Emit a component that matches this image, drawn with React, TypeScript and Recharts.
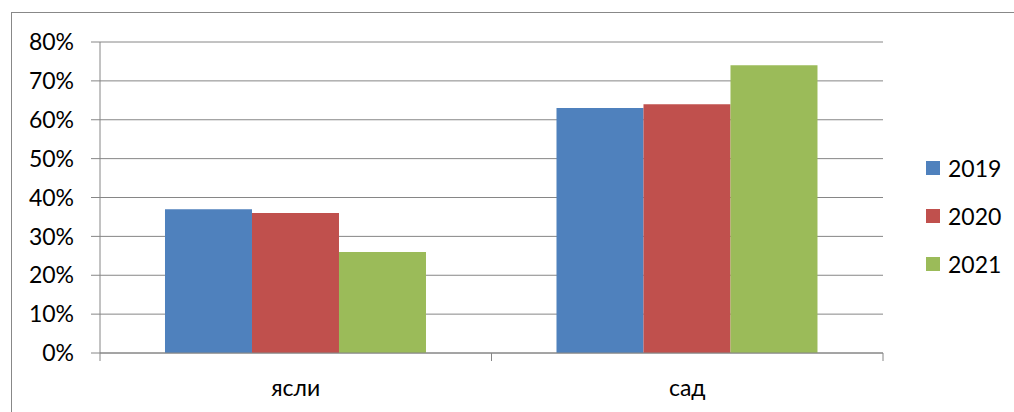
import { BarChart, Bar, XAxis, YAxis, CartesianGrid, Legend } from 'recharts';

const categories = ['ясли', 'сад'];
const values2019 = [37, 63];
const values2020 = [36, 64];
const values2021 = [26, 74];
const yTicks = [0, 10, 20, 30, 40, 50, 60, 70, 80];

const series = [
  { key: 'y2019', name: '2019', color: '#4F81BD' },
  { key: 'y2020', name: '2020', color: '#C0504D' },
  { key: 'y2021', name: '2021', color: '#9BBB59' },
];

const data = categories.map((name, i) => ({
  name,
  y2019: values2019[i],
  y2020: values2020[i],
  y2021: values2021[i],
}));

const W = 1014;
const H = 412;
const MARGIN = { top: 42, right: 0, left: 0, bottom: 0 };
const Y_AXIS_W = 100;
const LEGEND_W = 131;
const X_AXIS_H = 59;
const FONT = 'Lato, "Open Sans", sans-serif';
const GRID = '#868686';

const plotW = W - MARGIN.left - Y_AXIS_W - MARGIN.right - LEGEND_W;
const band = plotW / categories.length;
const TICK_GAP = 27;

function CategoryTick(props: any) {
  const { x, y, payload, index } = props;
  const axisY = y - TICK_GAP;
  return (
    <g>
      <line x1={x - band / 2} x2={x - band / 2} y1={axisY} y2={axisY + 8} stroke={GRID} />
      {index === categories.length - 1 && (
        <line x1={x + band / 2} x2={x + band / 2} y1={axisY} y2={axisY + 8} stroke={GRID} />
      )}
      <text x={x} y={y} dy="0.71em" textAnchor="middle" fill="#000" fontSize={23} fontFamily={FONT}>
        {payload.value}
      </text>
    </g>
  );
}

function LegendBox() {
  return (
    <div style={{ fontFamily: FONT, fontSize: 23, color: '#000' }}>
      {series.map((s) => (
        <div key={s.key} style={{ height: 48, display: 'flex', alignItems: 'center', paddingLeft: 43 }}>
          <span
            style={{
              width: 14,
              height: 14,
              flexShrink: 0,
              background: s.color,
              display: 'inline-block',
              marginRight: 8,
            }}
          />
          <span style={{ whiteSpace: 'nowrap' }}>{s.name}</span>
        </div>
      ))}
    </div>
  );
}

export default function App() {
  return (
    <div style={{ position: 'absolute', left: 0, top: 0, width: W, height: H, overflow: 'hidden', background: '#fff' }}>
      <div
        style={{
          position: 'absolute',
          left: 11,
          top: 12,
          width: W,
          height: H,
          border: '1px solid #888888',
          boxSizing: 'border-box',
        }}
      />
      <BarChart
        width={W}
        height={H}
        data={data}
        margin={MARGIN}
        barCategoryGap="16.6%"
        barGap={0}
      >
        <CartesianGrid horizontal vertical={false} stroke={GRID} />
        <XAxis
          dataKey="name"
          height={X_AXIS_H}
          axisLine={{ stroke: GRID }}
          tickLine={false}
          tickSize={0}
          tickMargin={TICK_GAP}
          tick={<CategoryTick />}
          interval={0}
        />
        <YAxis
          width={Y_AXIS_W}
          domain={[0, 80]}
          ticks={yTicks}
          interval={0}
          tickFormatter={(v) => `${v}%`}
          axisLine={{ stroke: GRID }}
          tickLine={{ stroke: GRID }}
          tickSize={9}
          tickMargin={17}
          tick={{ fill: '#000', fontSize: 23, fontFamily: FONT }}
        />
        <Legend
          layout="vertical"
          align="right"
          verticalAlign="middle"
          content={<LegendBox />}
          wrapperStyle={{ width: LEGEND_W, top: 144, right: MARGIN.right }}
        />
        {series.map((s) => (
          <Bar key={s.key} dataKey={s.key} name={s.name} fill={s.color} isAnimationActive={false} />
        ))}
      </BarChart>
    </div>
  );
}
